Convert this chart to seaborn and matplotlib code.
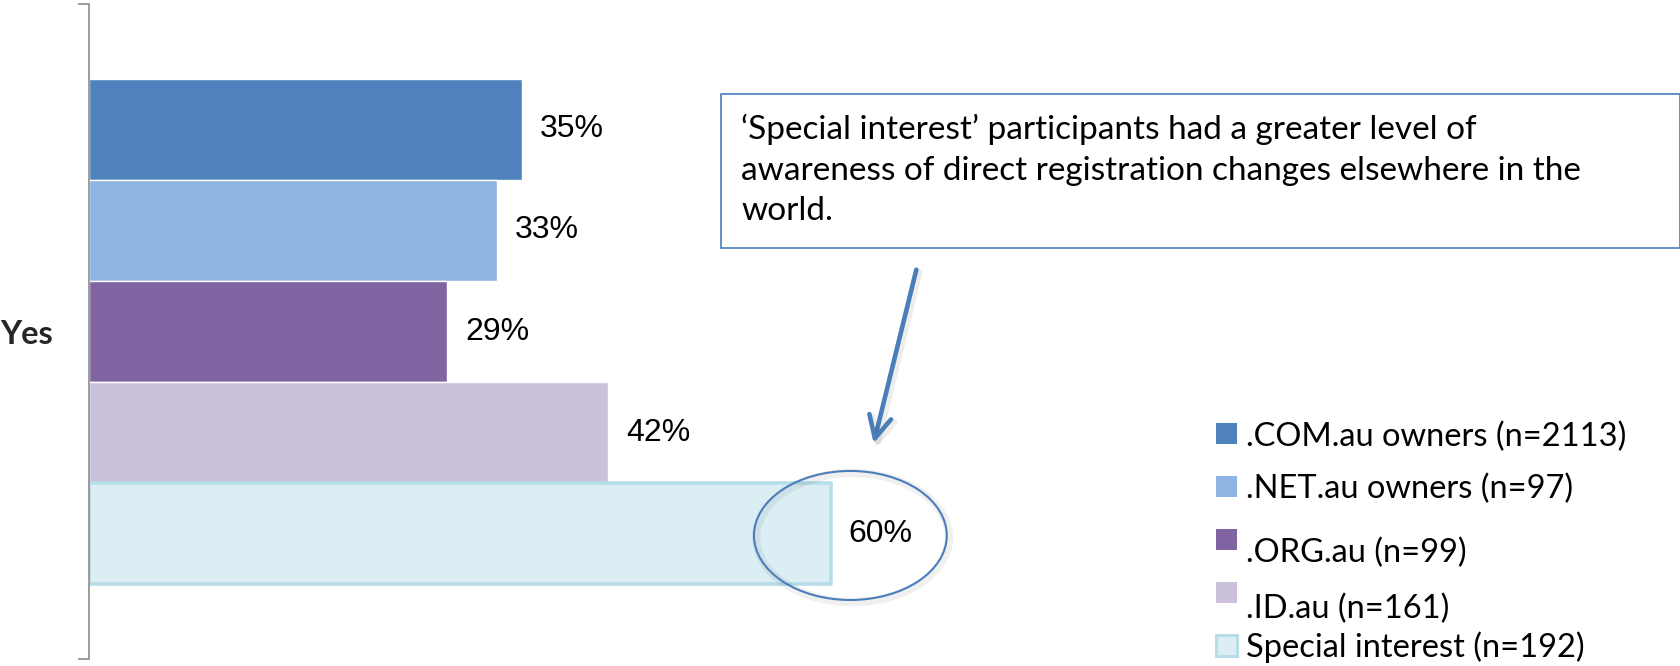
import matplotlib
matplotlib.use("Agg")
import matplotlib.pyplot as plt
from matplotlib.patches import Rectangle, Ellipse, FancyArrowPatch
import matplotlib.patheffects as pe
import numpy as np
import pandas as pd
import seaborn as sns

# Survey answers: share of each owner group that answered "Yes"
response = ["Yes"]
groups = [
    ".COM.au owners (n=2113)",
    ".NET.au owners (n=97)",
    ".ORG.au (n=99)",
    ".ID.au (n=161)",
    "Special interest (n=192)",
]
yes_pct = [35, 33, 29, 42, 60]
group_colors = ["#4F81BD", "#8EB4E3", "#8064A2", "#CCC1DA", "#DBEEF4"]
special_edge = "#B7DDE8"
callout_text = ("\u2018Special interest\u2019 participants had a greater level of\n"
                "awareness of direct registration changes elsewhere in the\n"
                "world.")

sns.set_style("white")
plt.rcParams["font.family"] = ["Lato", "DejaVu Sans"]

W, H = 1681, 666
fig = plt.figure(figsize=(W / 100, H / 100), dpi=100)
fig.patch.set_facecolor("white")


def fx(px):
    return px / W


def fy(py):
    return (H - py) / H


ax = fig.add_axes([fx(89), fy(659), fx(1236), 655 / H])

df = pd.DataFrame({
    "response": response * len(groups),
    "group": groups,
    "pct": yes_pct,
})
sns.barplot(data=df, x="pct", y="response", hue="group", hue_order=groups,
            palette=group_colors, saturation=1, width=0.771, dodge=True,
            legend=False, ax=ax, errorbar=None)

ax.set_xlim(0, 100)
ax.set_ylim(0.5, -0.5)

# Outline on the last series
special_bar = ax.containers[-1].patches[0]
special_bar.set_edgecolor(special_edge)
special_bar.set_linewidth(2.6)
special_bar.set_joinstyle("round")

# Value labels
for cont, v in zip(ax.containers, yes_pct):
    ax.bar_label(cont, labels=[f"{v}%"], padding=13, fontsize=23,
                 family="Liberation Sans", color="black")

# Axis styling: only the left category axis with end ticks
for side in ["top", "right", "bottom"]:
    ax.spines[side].set_visible(False)
ax.spines["left"].set_color("#8C8C8C")
ax.spines["left"].set_linewidth(1.2)
ax.set_xticks([])
ax.set_xlabel("")
ax.set_ylabel("")
ax.set_yticks([0])
ax.set_yticklabels(response, fontsize=23.5, fontweight="bold")
ax.tick_params(axis="y", which="major", left=True, length=0, pad=26)
ax.set_yticks([-0.5, 0.5], minor=True)
ax.tick_params(axis="y", which="minor", left=True, length=8, width=1.2,
               color="#8C8C8C", direction="out")

# Highlight ring around the special-interest value
bx = special_bar.get_x() + special_bar.get_width()
by = special_bar.get_y() + special_bar.get_height() / 2
ring = Ellipse((bx + 1.6, by + 0.003), width=15.6, height=0.197,
               facecolor="none", edgecolor="#4A7EBB", linewidth=1.5,
               zorder=5, clip_on=False)
ring.set_path_effects([
    pe.Stroke(linewidth=6, foreground=(0, 0, 0, 0.06), offset=(1.5, -1.5)),
    pe.Normal(),
])
ax.add_patch(ring)

# Callout box
box = Rectangle((fx(721), fy(248)), fx(1680) - fx(721), (248 - 94) / H,
                transform=fig.transFigure, facecolor="white",
                edgecolor="#4A7EBB", linewidth=1.2, zorder=3)
fig.patches.append(box)
fig.text(fx(741), fy(114), callout_text, fontsize=24, va="top", ha="left",
         linespacing=1.43, color="black", zorder=4)

arrow = FancyArrowPatch((fx(917), fy(267)), (fx(873), fy(446)),
                        transform=fig.transFigure,
                        arrowstyle="->,head_length=0.8,head_width=0.4",
                        mutation_scale=20, color="#4A7EBB", linewidth=3.3,
                        zorder=4)
arrow.set_path_effects([
    pe.Stroke(linewidth=5, foreground=(0, 0, 0, 0.07), offset=(2, -2)),
    pe.Normal(),
])
fig.patches.append(arrow)

# Legend, drawn entry by entry
marker_tops = [423, 476, 529, 582, 635]
text_baselines = [446, 498, 562, 618, 657]
for i, (lab, col) in enumerate(zip(groups, group_colors)):
    last = i == len(groups) - 1
    sq = Rectangle((fx(1216), fy(marker_tops[i] + 21)), 21 / W, 21 / H,
                   transform=fig.transFigure, facecolor=col,
                   edgecolor=special_edge if last else "none",
                   linewidth=2.2 if last else 0)
    fig.patches.append(sq)
    fig.text(fx(1246), fy(text_baselines[i]), lab, fontsize=23.5,
             va="baseline", ha="left", color="black")

fig.savefig("out.png", dpi=100, facecolor="white")
